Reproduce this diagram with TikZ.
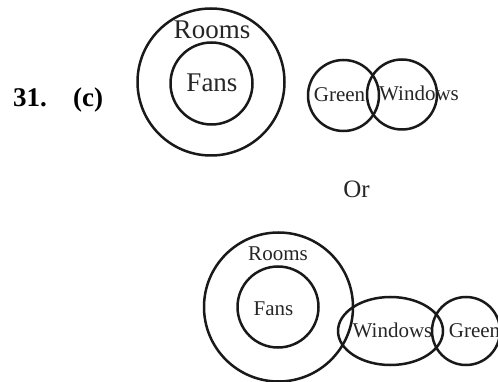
\documentclass[tikz,border=0pt]{standalone}
\usepackage{fontspec}
\setmainfont{Liberation Serif}
\usetikzlibrary{shapes.geometric}
\begin{document}
\begin{tikzpicture}[x=1pt,y=-1pt,
  venn/.style={draw=black!90, line width=2.5pt, circle, inner sep=0pt},
  vell/.style={draw=black!90, line width=2.5pt, ellipse, inner sep=0pt},
  big/.style={font=\fontsize{27}{32}\selectfont, anchor=base, inner sep=0pt, text=black!85},
  small/.style={font=\fontsize{21}{25}\selectfont, anchor=base, inner sep=0pt, text=black!85},
  bold/.style={font=\fontsize{27}{32}\selectfont\bfseries, anchor=base west, inner sep=0pt}]
\useasboundingbox (0,0) rectangle (498,382);
\clip (0,0) rectangle (498,382);
% label
\node[bold] (num) at (13,107) {31.};
\node[bold] (opt) at (73,107) {(c)};
% top diagram
\node[venn, minimum size=147pt] (rooms1) at (211,82) {};
\node[venn, minimum size=82pt] (fans1) at (211.5,83.5) {};
\node[big] (troom1) at (212,39) {Rooms};
\node[big] (tfans1) at (212,92) {Fans};
\node[venn, minimum size=71pt] (green1) at (343.5,95.5) {};
\node[venn, minimum size=70pt] (win1) at (402,94.5) {};
\node[small] (tgreen1) at (339.5,101.5) {Green};
\node[small] (twin1) at (419,100.5) {Windows};
% or
\node[font=\fontsize{25}{30}\selectfont, anchor=base, inner sep=0pt, text=black!85] (or) at (356.5,198) {Or};
% bottom diagram
\node[venn, minimum size=149pt] (rooms2) at (278.5,307) {};
\node[venn, minimum size=81pt] (fans2) at (278,307) {};
\node[small] (troom2) at (278,260) {Rooms};
\node[small] (tfans2) at (273.5,315) {Fans};
\node[vell, minimum width=105pt, minimum height=68pt] (win2) at (390.5,331) {};
\node[venn, minimum size=68pt] (green2) at (466,331) {};
\node[small] (twin2) at (392.5,337) {Windows};
\node[small] (tgreen2) at (474.5,337) {Green};
\end{tikzpicture}
\end{document}
